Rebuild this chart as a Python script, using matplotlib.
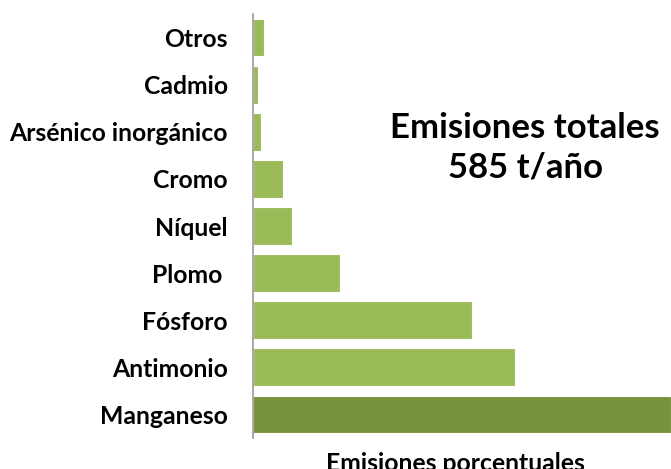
import matplotlib
matplotlib.use('Agg')
from matplotlib import pyplot as plt

# emisiones porcentuales (%), de abajo hacia arriba
categorias = ['Manganeso', 'Antimonio', 'Fósforo', 'Plomo ', 'Níquel',
              'Cromo', 'Arsénico inorgánico', 'Cadmio', 'Otros']
valores = [38.7, 24.3, 20.3, 8.1, 3.6, 2.8, 0.7, 0.5, 1.0]
colores = ['#77933C'] + ['#9BBB59'] * 8

plt.rcParams['font.family'] = ['Lato', 'DejaVu Sans']

fig = plt.figure(figsize=(6.71, 4.69), dpi=100)
ax = fig.add_axes([253/671, 1 - 438/469, 1 - 253/671, (438 - 14)/469])

ypos = range(len(categorias))
ax.barh(ypos, valores, height=0.8, color=colores, edgecolor='white', linewidth=0.8)
ax.set_yticks(list(ypos))
ax.set_yticklabels(categorias, fontsize=17.8, fontweight='bold')
ax.tick_params(axis='y', length=0, pad=18)
ax.set_xticks([])
ax.set_xlim(0, valores[0])
ax.set_ylim(-0.5, len(categorias) - 0.5)

for s in ['top', 'right', 'bottom']:
    ax.spines[s].set_visible(False)
ax.spines['left'].set_color('#999999')
ax.spines['left'].set_linewidth(1.2)

ax.text(0.651, 0.684, 'Emisiones totales\n585 t/año', transform=ax.transAxes,
        ha='center', va='center', fontsize=25, fontweight='bold', linespacing=1.3)

fig.text(455/671, 1 - 452/469, 'Emisiones porcentuales', ha='center', va='top',
         fontsize=17.8, fontweight='bold')

fig.savefig('out.png', dpi=100)
